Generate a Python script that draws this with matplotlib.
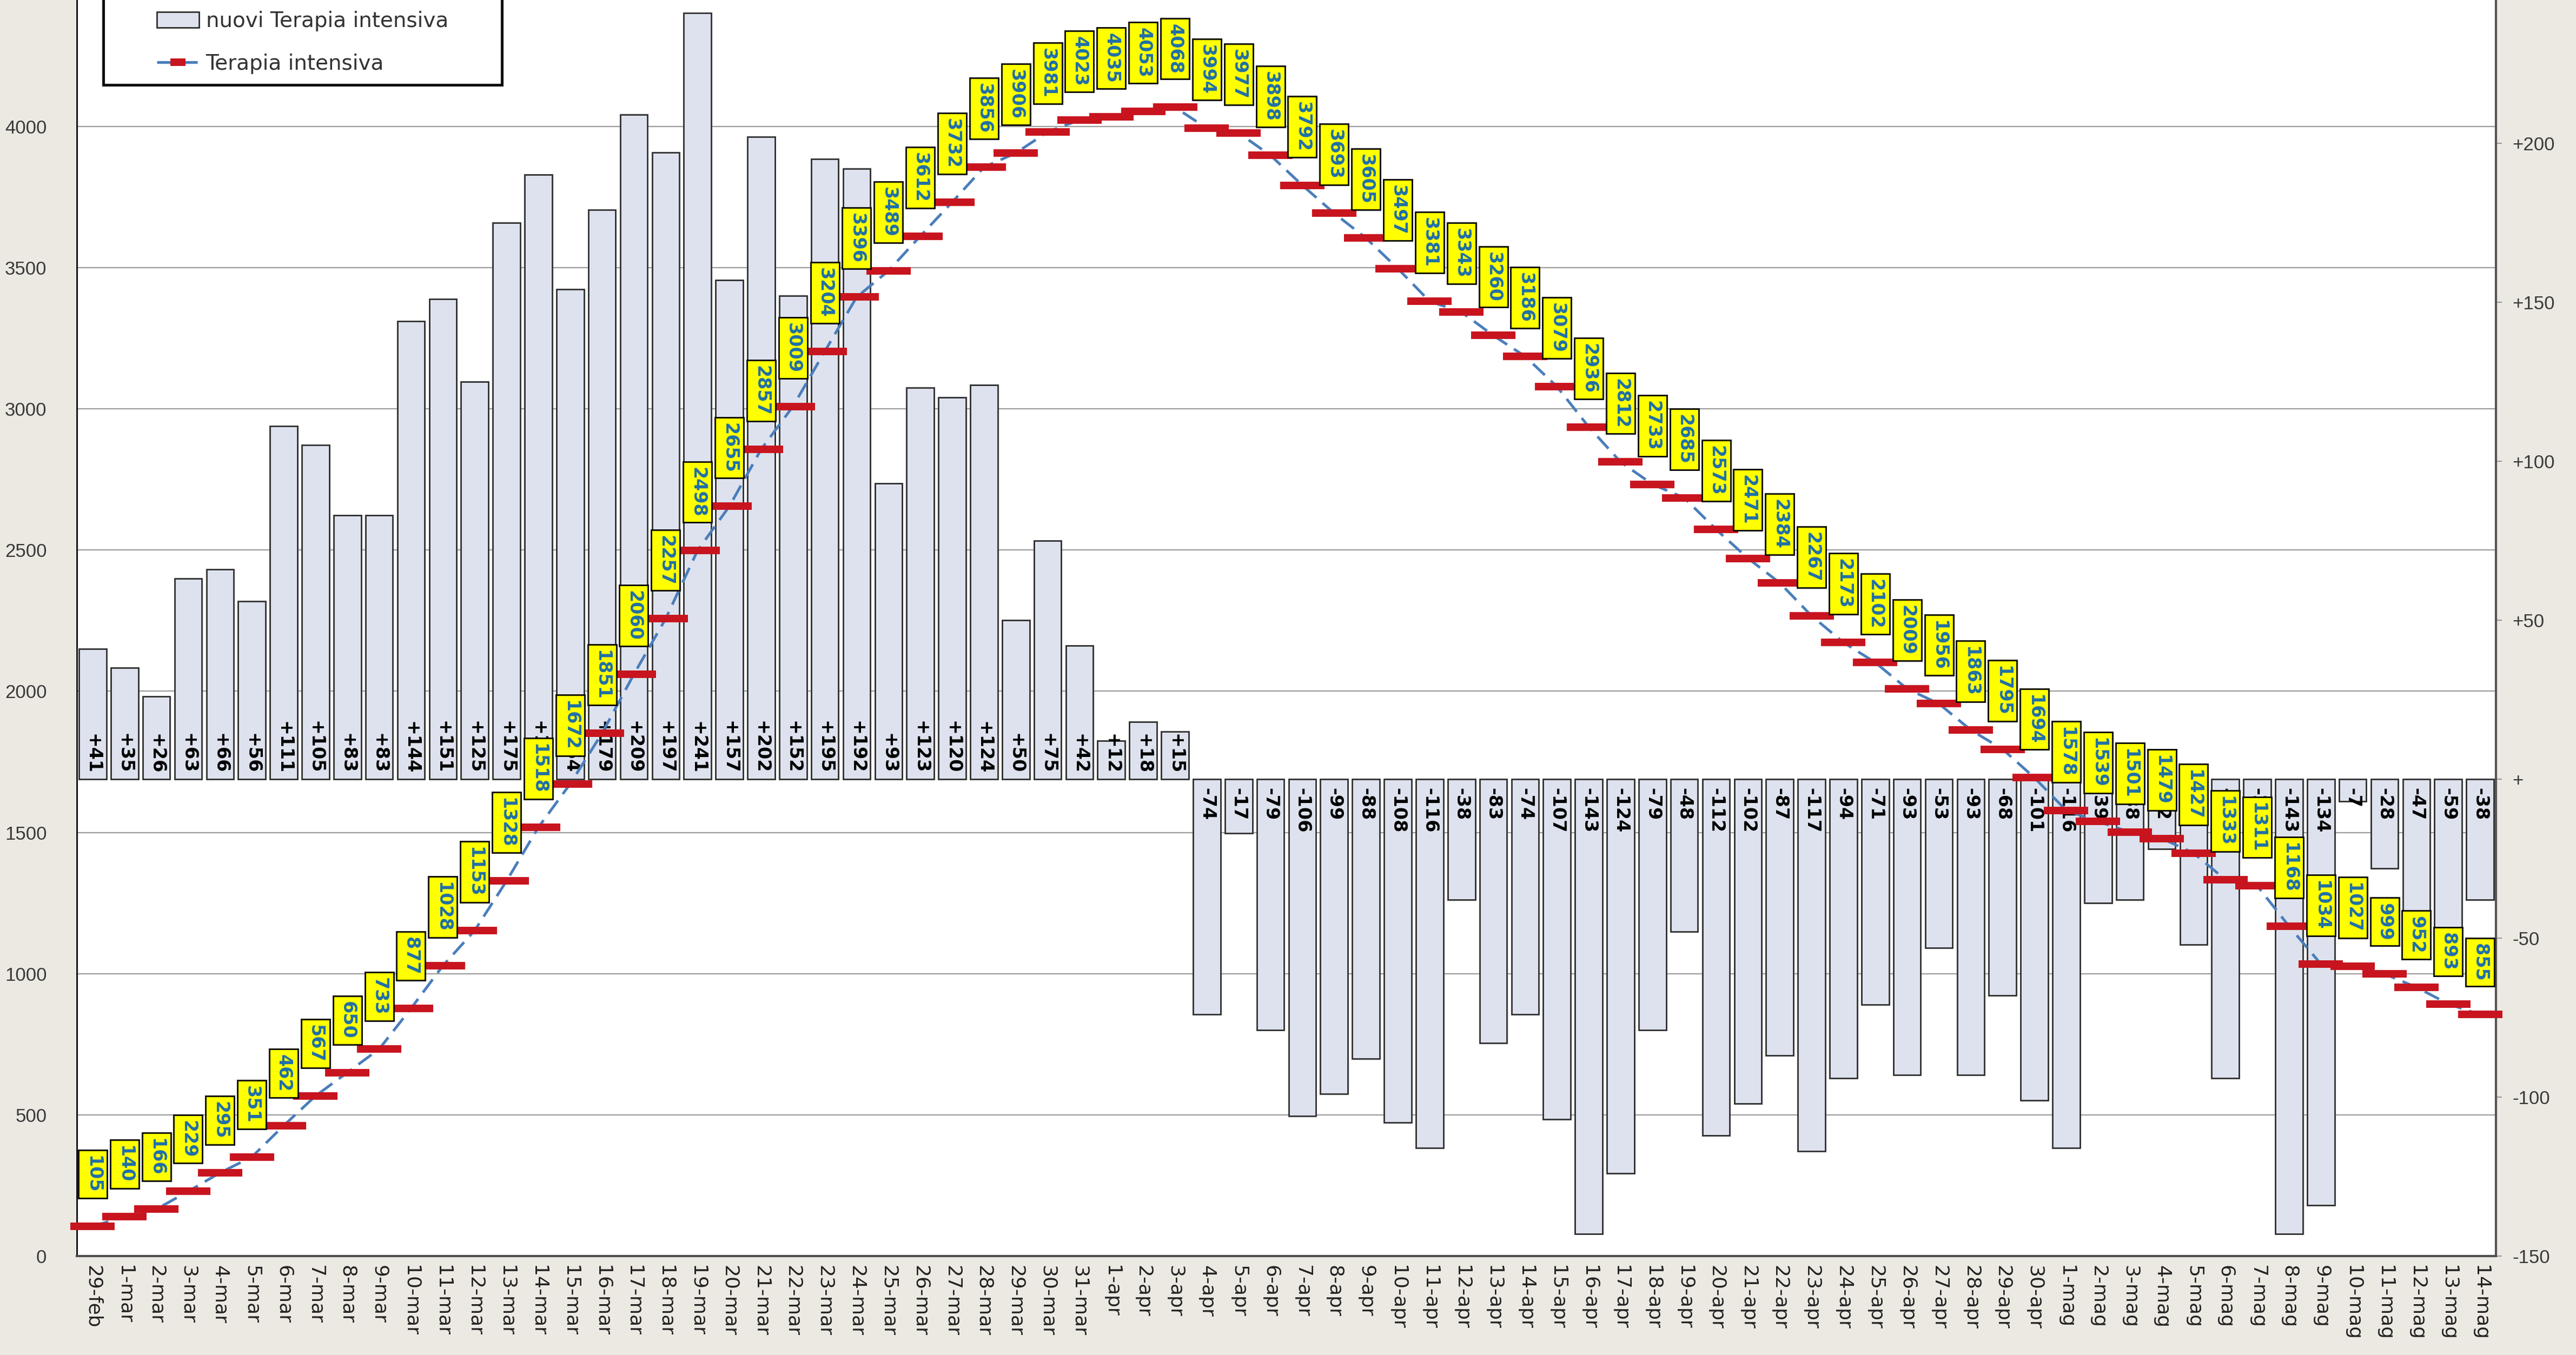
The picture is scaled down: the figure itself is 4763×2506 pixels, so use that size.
import numpy as np
import matplotlib
matplotlib.use("Agg")
import matplotlib.pyplot as plt
from matplotlib.patches import Rectangle
from matplotlib.lines import Line2D

# --- data -------------------------------------------------------------------
dates = [
    "29-feb",
    "1-mar", "2-mar", "3-mar", "4-mar", "5-mar", "6-mar", "7-mar", "8-mar",
    "9-mar", "10-mar", "11-mar", "12-mar", "13-mar", "14-mar", "15-mar",
    "16-mar", "17-mar", "18-mar", "19-mar", "20-mar", "21-mar", "22-mar",
    "23-mar", "24-mar", "25-mar", "26-mar", "27-mar", "28-mar", "29-mar",
    "30-mar", "31-mar",
    "1-apr", "2-apr", "3-apr", "4-apr", "5-apr", "6-apr", "7-apr", "8-apr",
    "9-apr", "10-apr", "11-apr", "12-apr", "13-apr", "14-apr", "15-apr",
    "16-apr", "17-apr", "18-apr", "19-apr", "20-apr", "21-apr", "22-apr",
    "23-apr", "24-apr", "25-apr", "26-apr", "27-apr", "28-apr", "29-apr",
    "30-apr",
    "1-mag", "2-mag", "3-mag", "4-mag", "5-mag", "6-mag", "7-mag", "8-mag",
    "9-mag", "10-mag", "11-mag", "12-mag", "13-mag", "14-mag",
]

terapia_intensiva = [
    105, 140, 166, 229, 295, 351, 462, 567, 650, 733, 877, 1028, 1153, 1328,
    1518, 1672, 1851, 2060, 2257, 2498, 2655, 2857, 3009, 3204, 3396, 3489,
    3612, 3732, 3856, 3906, 3981, 4023, 4035, 4053, 4068, 3994, 3977, 3898,
    3792, 3693, 3605, 3497, 3381, 3343, 3260, 3186, 3079, 2936, 2812, 2733,
    2685, 2573, 2471, 2384, 2267, 2173, 2102, 2009, 1956, 1863, 1795, 1694,
    1578, 1539, 1501, 1479, 1427, 1333, 1311, 1168, 1034, 1027, 999, 952,
    893, 855,
]

nuovi_terapia_intensiva = [
    41, 35, 26, 63, 66, 56, 111, 105, 83, 83, 144, 151, 125, 175, 190, 154,
    179, 209, 197, 241, 157, 202, 152, 195, 192, 93, 123, 120, 124, 50, 75,
    42, 12, 18, 15, -74, -17, -79, -106, -99, -88, -108, -116, -38, -83, -74,
    -107, -143, -124, -79, -48, -112, -102, -87, -117, -94, -71, -93, -53,
    -93, -68, -101, -116, -39, -38, -22, -52, -94, -22, -143, -134, -7, -28,
    -47, -59, -38,
]

left_ticks = [0, 500, 1000, 1500, 2000, 2500, 3000, 3500, 4000]
right_ticks = [-150, -100, -50, 0, 50, 100, 150, 200]
right_tick_labels = ["-150", "-100", "-50", "+", "+50", "+100", "+150", "+200"]

legend_labels = ["nuovi Terapia intensiva", "Terapia intensiva"]

# --- figure -----------------------------------------------------------------
W, H, DPI = 4763, 2506, 100
plt.rcParams["font.family"] = ["DejaVu Sans"]
fig = plt.figure(figsize=(W / DPI, H / DPI), dpi=DPI, facecolor="#ece9e2")

x = np.arange(len(dates))

# host axes: total patients (left scale), drawn on top
ax = fig.add_axes([142 / W, 1 - 2323 / H, (4615 - 142) / W, 2323 / H])
# twin axes: daily change (right scale), drawn underneath
axb = ax.twinx()
ax.set_zorder(axb.get_zorder() + 1)
ax.patch.set_visible(False)
axb.patch.set_visible(True)
axb.patch.set_facecolor("white")

# horizontal grid of the left scale, kept behind the bars
for v in left_ticks[1:]:
    axb.add_line(Line2D([0, 1], [v, v], transform=ax.get_yaxis_transform(),
                        color="#9c9c9c", lw=1.6, zorder=1))

bars = axb.bar(x, nuovi_terapia_intensiva, width=0.86, color="#dde2ee",
               edgecolor="#2e2e2e", linewidth=2, zorder=2)

for xi, v in zip(x, nuovi_terapia_intensiva):
    if v >= 0:
        axb.annotate(f"{v:+d}", (xi, 0), xytext=(0, 10),
                     textcoords="offset pixels", rotation=270,
                     ha="center", va="bottom", fontsize=24,
                     fontweight="bold", color="black", zorder=3)
    else:
        axb.annotate(f"{v:+d}", (xi, 0), xytext=(0, -16),
                     textcoords="offset pixels", rotation=270,
                     ha="center", va="top", fontsize=24,
                     fontweight="bold", color="black", zorder=3)

line, = ax.plot(x, terapia_intensiva, color="#4a7ebb", lw=3.6,
                linestyle=(0, (6, 3)), marker="_", markersize=59,
                markeredgewidth=10, markeredgecolor="#c8141e",
                markerfacecolor="#c8141e", zorder=3, clip_on=False)

for xi, v in zip(x, terapia_intensiva):
    ax.annotate(str(v), (xi, v), xytext=(0, 62), textcoords="offset pixels",
                rotation=270, ha="center", va="bottom", fontsize=24,
                fontweight="bold", color="#1f6fa8", zorder=5,
                bbox=dict(boxstyle="square,pad=0.3", fc="#ffff00",
                          ec="black", lw=2))

# --- axes styling -----------------------------------------------------------
ax.set_xlim(-0.5, len(dates) - 0.5)
ax.set_ylim(0, 4448)
axb.set_ylim(-150, 245)

ax.set_xticks(x)
ax.set_xticklabels(dates, rotation=270, fontsize=26, color="#222222")
ax.tick_params(axis="x", length=0, pad=12)

ax.set_yticks(left_ticks)
ax.tick_params(axis="y", length=0, pad=40, labelsize=25, labelcolor="#3a3a3a")
for t in ax.get_yticklabels():
    t.set_fontfamily("Liberation Sans")

axb.set_yticks(right_ticks)
axb.set_yticklabels(right_tick_labels)
axb.tick_params(axis="y", length=8, width=1.5, color="#999999", pad=14,
                labelsize=25, labelcolor="#3a3a3a")
for t in axb.get_yticklabels():
    t.set_fontfamily("Liberation Sans")

for s in axb.spines.values():
    s.set_visible(False)
ax.spines["top"].set_visible(False)
ax.spines["left"].set_color("black")
ax.spines["left"].set_linewidth(2)
ax.spines["bottom"].set_color("#4d4d4d")
ax.spines["bottom"].set_linewidth(3)
ax.spines["right"].set_color("#555555")
ax.spines["right"].set_linewidth(3)

# --- legend -----------------------------------------------------------------
frame = Rectangle((191 / W, 1 - 157 / H), (928 - 191) / W, 180 / H,
                  transform=fig.transFigure, facecolor="white",
                  edgecolor="black", linewidth=3.5, zorder=5)
fig.add_artist(frame)
leg = fig.legend([bars, line], legend_labels, loc="upper left",
                 bbox_to_anchor=(290 / W, 1 - 20 / H), frameon=False,
                 fontsize=28, handlelength=2.0, handleheight=0.8,
                 handletextpad=0.33, labelspacing=1.05, borderpad=0,
                 borderaxespad=0, markerscale=0.33, labelcolor="#333333")
leg.set_zorder(6)

fig.savefig("out.png", dpi=DPI, facecolor=fig.get_facecolor())
